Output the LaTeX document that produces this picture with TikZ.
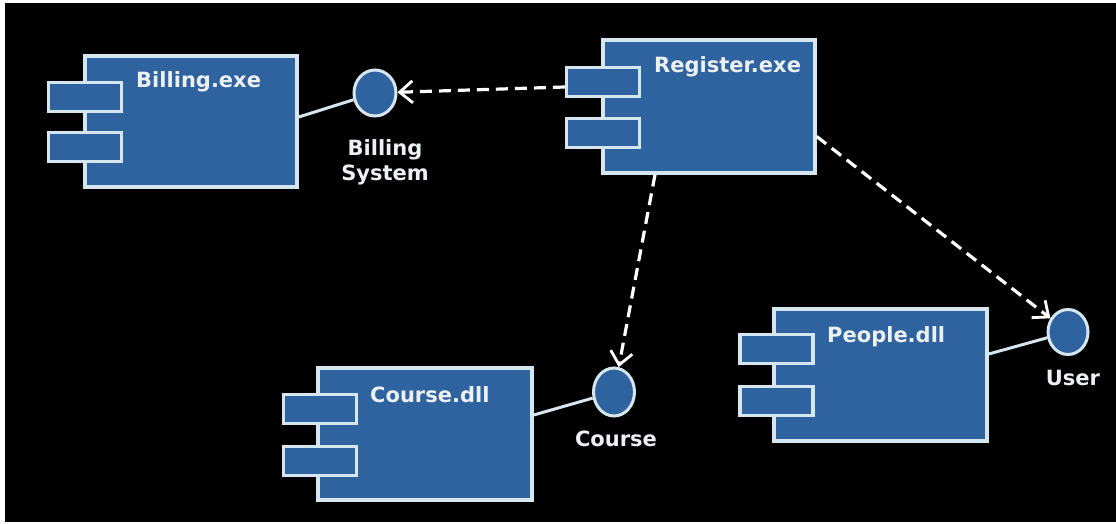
\documentclass[tikz,border=0pt]{standalone}
\usepackage{fontspec}
\setmainfont{DejaVu Sans}
\usetikzlibrary{arrows.meta,shapes.geometric}
\definecolor{compfill}{RGB}{46,99,160}
\definecolor{compedge}{RGB}{214,230,240}
\definecolor{labeltext}{RGB}{236,240,242}
\tikzset{
  comp/.style={draw=compedge, fill=compfill, line width=3.4pt, inner sep=0pt, rectangle},
  port/.style={comp, minimum width=73pt, minimum height=29pt},
  iface/.style={draw=compedge, fill=compfill, line width=3pt, ellipse, inner sep=0pt},
  title/.style={anchor=base west, text=labeltext, font=\bfseries\fontsize{21}{24}\selectfont, inner sep=0pt},
  ilabel/.style={anchor=base, text=labeltext, font=\bfseries\fontsize{21}{25}\selectfont, inner sep=0pt, align=center},
  assoc/.style={draw=compedge, line width=3pt},
  dep/.style={draw=white, line width=3.2pt, dash pattern=on 12pt off 7pt, -{Straight Barb[length=13pt,width=22pt,line width=2.8pt]}}
}
\begin{document}
\begin{tikzpicture}[x=1pt,y=-1pt]
\useasboundingbox (0,0) rectangle (1116,524);
\fill[white] (0,0) rectangle (1116,524);
\fill[black] (5,3) rectangle (1116,522);

% Billing.exe
\node[comp, minimum width=212pt, minimum height=131pt] (bill) at (191,121.5) {};
\node[port] (bp1) at (85,97) {};
\node[port] (bp2) at (85,147) {};
\node[title] (billt) at (136,88) {Billing.exe};

% Register.exe
\node[comp, minimum width=212pt, minimum height=133pt] (reg) at (709,106.5) {};
\node[port] (rp1) at (603,82) {};
\node[port] (rp2) at (603,133) {};
\node[title] (regt) at (654,73) {Register.exe};

% Course.dll
\node[comp, minimum width=214pt, minimum height=132pt] (crs) at (425,434) {};
\node[port] (cp1) at (320,409) {};
\node[port] (cp2) at (320,461) {};
\node[title] (crst) at (370,402) {Course.dll};

% People.dll
\node[comp, minimum width=213pt, minimum height=132pt] (ppl) at (880.5,375) {};
\node[port] (pp1) at (776.5,349) {};
\node[port] (pp2) at (776.5,401) {};
\node[title] (pplt) at (827,342) {People.dll};

% Interfaces
\node[iface, minimum width=42pt, minimum height=46pt] (bsys) at (375,93) {};
\node[ilabel] (bsysl) at (385,180) {Billing\\System};
\node[iface, minimum width=41pt, minimum height=48pt] (cint) at (614,392) {};
\node[ilabel] (cintl) at (616,446) {Course};
\node[iface, minimum width=40pt, minimum height=45pt] (uint) at (1068,332) {};
\node[ilabel] (uintl) at (1073,385) {User};

% Realisations (solid)
\draw[assoc] ([yshift=4.5pt]bill.east) -- (bsys);
\draw[assoc] ([yshift=19pt]crs.east) -- (cint);
\draw[assoc] ([yshift=21pt]ppl.east) -- (uint);

% Dependencies (dashed)
\draw[dep] ([yshift=-5pt]rp1.west) -- (bsys);
\draw[dep] ([xshift=-54pt]reg.south) -- (cint);
\draw[dep] ([yshift=-30pt]reg.east) -- (uint);
\end{tikzpicture}
\end{document}
